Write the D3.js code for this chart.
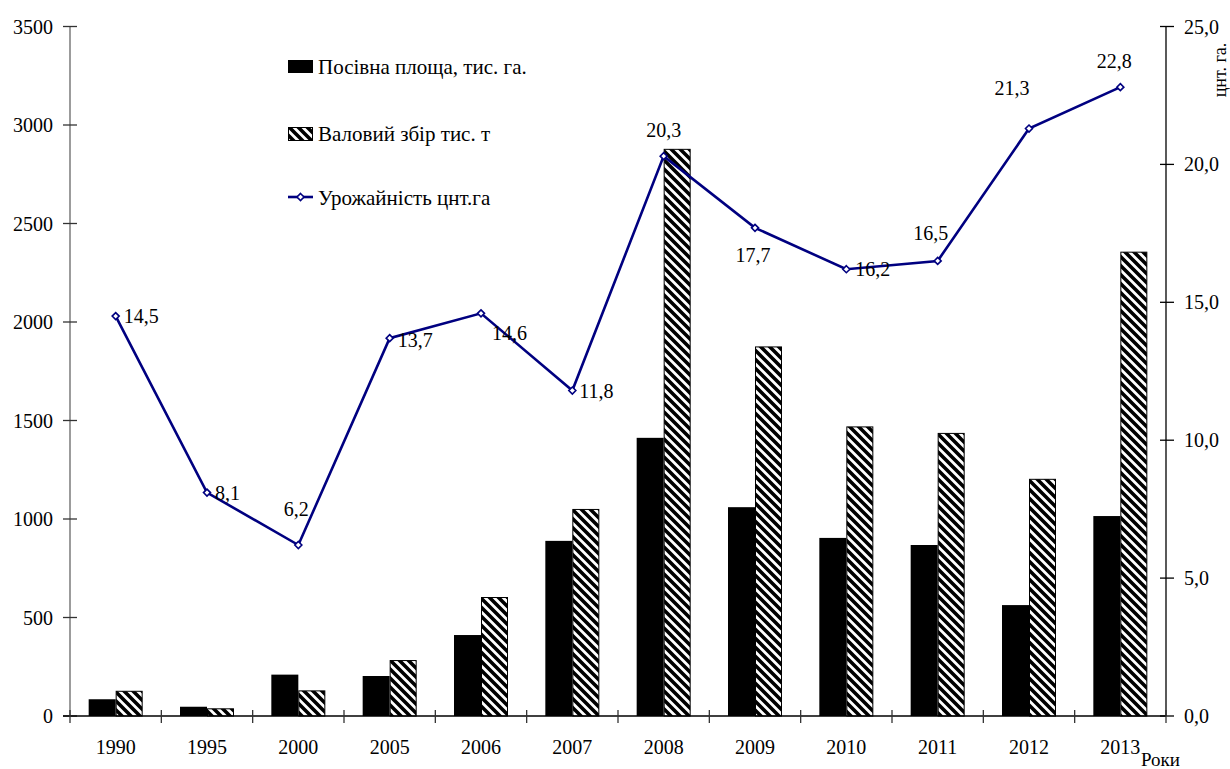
<!DOCTYPE html>
<html><head><meta charset="utf-8">
<script src="https://cdn.jsdelivr.net/npm/d3@7"></script>
<style>
body{margin:0;background:#fff;}
svg text{font-family:'Liberation Serif','Tinos','Times New Roman','DejaVu Serif',serif;fill:#000;}
</style></head>
<body><svg id="c" width="1230" height="769" font-family="'Liberation Serif','DejaVu Serif',serif"></svg>
<script>
const years = ["1990","1995","2000","2005","2006","2007","2008","2009","2010","2011","2012","2013"];
const area = [85, 47, 210, 203, 411, 889, 1412, 1060, 904, 868, 563, 1015];
const harvest = [128, 39, 130, 284, 604, 1051, 2879, 1876, 1470, 1437, 1204, 2357];
const yieldVals = [14.5, 8.1, 6.2, 13.7, 14.6, 11.8, 20.3, 17.7, 16.2, 16.5, 21.3, 22.8];
const yieldLabels = ["14,5","8,1","6,2","13,7","14,6","11,8","20,3","17,7","16,2","16,5","21,3","22,8"];
const leftTicks = [0,500,1000,1500,2000,2500,3000,3500];
const rightTicks = [0,5,10,15,20,25];
const seriesNames = ["Посівна площа, тис. га.","Валовий збір тис. т","Урожайність цнт.га"];
// label placement offsets (style, not data)
const labelOffsets = [[8,0,"start"],[8,0,"start"],[-2,-36,"middle"],[8,2,"start"],[11,20,"start"],[7,0,"start"],[0,-26,"middle"],[-2,27,"middle"],[9,0,"start"],[-7,-28,"middle"],[-17,-41,"middle"],[-6,-26,"middle"]];

const svg = d3.select("#c");
const L = 70, R = 1166, T = 26.5, B = 716;
const x = d3.scaleBand().domain(years).range([L,R]);
const yL = d3.scaleLinear().domain([0,3500]).range([B,T]);
const yR = d3.scaleLinear().domain([0,25]).range([B,T]);
const bw = 27;

const defs = svg.append("defs");
const pat = defs.append("pattern").attr("id","hatch").attr("patternUnits","userSpaceOnUse")
  .attr("width",9).attr("height",9);
pat.append("rect").attr("width",9).attr("height",9).attr("fill","#fff");
pat.append("path").attr("d","M-3,6 L3,12 M0,0 L9,9 M6,-3 L12,3").attr("stroke","#000").attr("stroke-width",3.6);

// bars
svg.append("g").selectAll("rect").data(area).join("rect")
  .attr("x",(d,i)=>x(years[i])+x.bandwidth()/2-bw)
  .attr("y",d=>yL(d)).attr("width",bw).attr("height",d=>B-yL(d))
  .attr("fill","#000");
svg.append("g").selectAll("rect").data(harvest).join("rect")
  .attr("x",(d,i)=>x(years[i])+x.bandwidth()/2+0.5)
  .attr("y",d=>yL(d)+0.5).attr("width",bw-1).attr("height",d=>B-yL(d)-0.5)
  .attr("fill","url(#hatch)").attr("stroke","#000").attr("stroke-width",1);

// left axis
const gl = svg.append("g");
gl.append("line").attr("x1",L).attr("x2",L).attr("y1",T).attr("y2",B).attr("stroke","#666").attr("stroke-width",1.3);
gl.selectAll("line.t").data(leftTicks).join("line").attr("class","t")
  .attr("x1",L-7).attr("x2",L+7).attr("y1",d=>yL(d)).attr("y2",d=>yL(d)).attr("stroke","#333").attr("stroke-width",1.3);
gl.selectAll("text").data(leftTicks).join("text")
  .attr("x",53).attr("y",d=>yL(d)).attr("dy","0.35em").attr("text-anchor","end")
  .attr("font-size",20).text(d=>d);

// right axis
const gr = svg.append("g");
gr.append("line").attr("x1",R).attr("x2",R).attr("y1",T).attr("y2",B).attr("stroke","#000").attr("stroke-width",1.3);
gr.selectAll("line.t").data(rightTicks).join("line").attr("class","t")
  .attr("x1",R-6).attr("x2",R+8).attr("y1",d=>yR(d)).attr("y2",d=>yR(d)).attr("stroke","#000").attr("stroke-width",1.3);
gr.selectAll("text").data(rightTicks).join("text")
  .attr("x",1184).attr("y",d=>yR(d)).attr("dy","0.35em").attr("text-anchor","start")
  .attr("font-size",20).text(d=>d3.format(".1f")(d).replace(".",","));
svg.append("text").attr("transform","translate(1226,70) rotate(-90)").attr("text-anchor","middle")
  .attr("font-size",18).text("цнт. га.");

// bottom axis
const gb = svg.append("g");
gb.append("line").attr("x1",L-7).attr("x2",R).attr("y1",B).attr("y2",B).attr("stroke","#000").attr("stroke-width",1.3);
gb.selectAll("line.t").data(d3.range(years.length+1)).join("line").attr("class","t")
  .attr("x1",i=>L+i*x.step()).attr("x2",i=>L+i*x.step()).attr("y1",B-6).attr("y2",B+7)
  .attr("stroke","#333").attr("stroke-width",1.3);
gb.selectAll("text").data(years).join("text")
  .attr("x",d=>x(d)+x.bandwidth()/2).attr("y",747).attr("dy","0.35em").attr("text-anchor","middle")
  .attr("font-size",20).text(d=>d);
svg.append("text").attr("x",1141).attr("y",766).attr("font-size",19).text("Роки");

// line
const cx = (i)=>x(years[i])+x.bandwidth()/2;
const line = d3.line().x((d,i)=>cx(i)).y(d=>yR(d));
svg.append("path").datum(yieldVals).attr("d",line).attr("fill","none").attr("stroke","#000080").attr("stroke-width",2.6);
svg.append("g").selectAll("path").data(yieldVals).join("path")
  .attr("d","M0,-3.5 L3.5,0 L0,3.5 L-3.5,0Z")
  .attr("transform",(d,i)=>`translate(${cx(i)},${yR(d)})`).attr("fill","#fff").attr("stroke","#000080").attr("stroke-width",1.6);
svg.append("g").selectAll("text").data(yieldVals).join("text")
  .attr("x",(d,i)=>cx(i)+labelOffsets[i][0]).attr("y",(d,i)=>yR(d)+labelOffsets[i][1])
  .attr("dy","0.35em").attr("text-anchor",(d,i)=>labelOffsets[i][2])
  .attr("font-size",20).text((d,i)=>yieldLabels[i]);

// legend
const lg = svg.append("g");
lg.append("rect").attr("x",288).attr("y",60).attr("width",25).attr("height",13).attr("fill","#000");
lg.append("rect").attr("x",288.5).attr("y",127.5).attr("width",24).attr("height",13).attr("fill","url(#hatch)").attr("stroke","#000");
lg.append("line").attr("x1",288).attr("x2",313).attr("y1",197).attr("y2",197).attr("stroke","#000080").attr("stroke-width",2.6);
lg.append("path").attr("d","M0,-3.5 L3.5,0 L0,3.5 L-3.5,0Z").attr("transform","translate(300.5,197)").attr("fill","#fff").attr("stroke","#000080").attr("stroke-width",1.6);
lg.selectAll("text").data(seriesNames).join("text")
  .attr("x",318).attr("y",(d,i)=>[67,134,198][i]).attr("dy","0.35em").attr("font-size",21).text(d=>d);
</script></body></html>
